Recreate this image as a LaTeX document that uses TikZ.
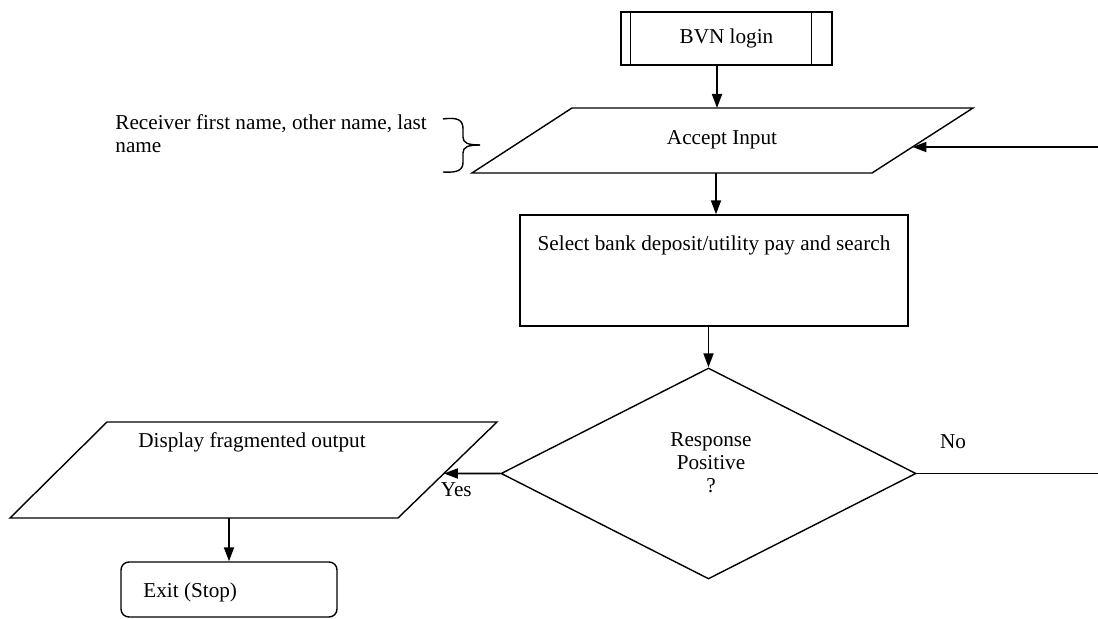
\documentclass[tikz,border=0pt]{standalone}
\usepackage{fontspec}
\setmainfont{Liberation Serif}
\usetikzlibrary{arrows.meta,positioning,calc,shapes.geometric}

\begin{document}
\begin{tikzpicture}[x=0.5pt,y=-0.5pt,
  font=\fontsize{10.6}{11.6}\selectfont,
  shp/.style={draw,line width=0.7pt,inner sep=0pt},
  arr/.style={line width=0.9pt,-{Triangle[length=7pt,width=5pt]}},
  txt/.style={inner sep=0pt,align=center}]
\useasboundingbox (0,0) rectangle (1098,619);

% BVN login
\node[shp,minimum width=105.5pt,minimum height=26.5pt] (bvn) at (726.5,38.5) {BVN login};
\draw[shp] ([xshift=5pt]bvn.north west) -- ([xshift=5pt]bvn.south west);
\draw[shp] ([xshift=-10.5pt]bvn.north east) -- ([xshift=-10.5pt]bvn.south east);

% Accept Input
\coordinate (acctl) at (572,108);
\coordinate (acctr) at (973,108);
\coordinate (accbr) at (872,173);
\coordinate (accbl) at (472,173);
\draw[shp] (acctl) -- (acctr) -- (accbr) -- (accbl) -- cycle;
\node[txt] (accin) at (722,140) {Accept Input};
\node[txt,align=left,anchor=west] (recv) at (115,134) {Receiver first name, other name, last\\name};
\draw[line width=0.7pt] (443,119) .. controls (458,117) and (463,120) .. (463,129) -- (463,137)
  .. controls (463,143) and (468,145) .. (480,145);
\draw[line width=0.7pt] (480,145) .. controls (468,145) and (463,147) .. (463,153) -- (463,162)
  .. controls (463,170) and (458,173) .. (443,172);

% Select
\node[shp,minimum width=194pt,minimum height=55.5pt] (sel) at (714,270.5) {};
\node[txt] (seltxt) at (714,245) {Select bank deposit/utility pay and search};

% Decision
\node[shp,diamond,minimum width=207.5pt,minimum height=105.5pt] (dia) at (708.5,473.5) {};
\node[txt] (diatxt) at (711,463) {Response\\Positive\\?};

% Display
\coordinate (disptl) at (107,422);
\coordinate (disptr) at (497,422);
\coordinate (dispbr) at (398,518);
\coordinate (dispbl) at (10,518);
\draw[shp] (disptl) -- (disptr) -- (dispbr) -- (dispbl) -- cycle;
\node[txt] (disptxt) at (252,442) {Display fragmented output};

% Exit
\node[shp,rounded corners=4pt,minimum width=108pt,minimum height=27.5pt] (exit) at (229,589.5) {};
\node[txt,anchor=west] (exittxt) at (143,592) {Exit (Stop)};

\coordinate (loopin) at (1098,147);
\coordinate (noend) at (1098,473.5);

% connectors
\draw[arr] ([xshift=-4.75pt]bvn.south) -- ([xshift=-4.75pt]bvn.south |- acctl);
\draw[arr] ([xshift=1pt]sel.north |- accbl) -- ([xshift=1pt]sel.north);
\draw[arr] (sel.south -| dia.north) -- (dia.north);
\draw[arr] (loopin) -- ($(accbr)!0.4!(acctr)$);
\draw[line width=0.7pt] (dia.east) -- node[pos=0.2,above=12pt,inner sep=0pt] {No} (noend);
\draw[arr] (dia.west) -- node[pos=0.78,below=4pt,inner sep=0pt] {Yes} ($(dispbr)!0.4635!(disptr)$);
\draw[arr] (exit.north |- dispbl) -- (exit.north);
\end{tikzpicture}
\end{document}
